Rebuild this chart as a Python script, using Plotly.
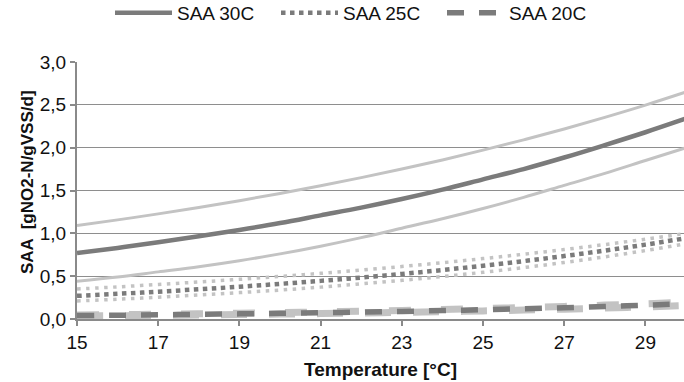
import plotly.graph_objects as go

# Temperature (°C)
temperature = [15, 16, 17, 18, 19, 20, 21, 22, 23, 24, 25, 26, 27, 28, 29, 30]

# SAA at 30C reactor temperature: fit and confidence bounds
saa30 = [0.77, 0.83, 0.895, 0.965, 1.04, 1.12, 1.21, 1.30, 1.40, 1.51, 1.63, 1.75, 1.885, 2.03, 2.18, 2.34]
saa30_hi = [1.09, 1.157, 1.227, 1.302, 1.381, 1.466, 1.555, 1.650, 1.751, 1.857, 1.971, 2.091, 2.218, 2.354, 2.497, 2.65]
saa30_lo = [0.44, 0.49, 0.55, 0.61, 0.68, 0.76, 0.85, 0.95, 1.06, 1.17, 1.29, 1.42, 1.56, 1.70, 1.85, 2.00]

# SAA at 25C
saa25 = [0.270, 0.294, 0.319, 0.347, 0.377, 0.410, 0.445, 0.484, 0.526, 0.572, 0.622, 0.676, 0.735, 0.799, 0.868, 0.944]
saa25_hi = [0.35, 0.375, 0.403, 0.432, 0.463, 0.497, 0.533, 0.571, 0.613, 0.657, 0.705, 0.756, 0.811, 0.869, 0.932, 1.0]
saa25_lo = [0.21, 0.231, 0.254, 0.280, 0.308, 0.338, 0.372, 0.410, 0.451, 0.496, 0.545, 0.600, 0.660, 0.726, 0.799, 0.879]

# SAA at 20C
saa20 = [0.040, 0.044, 0.049, 0.054, 0.060, 0.066, 0.073, 0.080, 0.089, 0.098, 0.108, 0.120, 0.132, 0.146, 0.161, 0.178]
saa20_hi = [0.046, 0.051, 0.056, 0.062, 0.068, 0.075, 0.083, 0.091, 0.100, 0.110, 0.121, 0.134, 0.147, 0.162, 0.178, 0.196]
saa20_lo = [0.035, 0.038, 0.042, 0.047, 0.052, 0.057, 0.063, 0.070, 0.077, 0.085, 0.094, 0.104, 0.115, 0.127, 0.141, 0.157]

x_ticks = [15, 17, 19, 21, 23, 25, 27, 29]

DARK = "#7b7b7b"
LIGHT = "#c3c3c3"
FONT = "Liberation Sans, Arial, sans-serif"
TXT = "#111111"

fig = go.Figure()


def add(y, color, width, dash, name=None, show=False):
    fig.add_trace(go.Scatter(
        x=temperature, y=y, mode="lines", name=name, showlegend=show,
        line=dict(color=color, width=width, dash=dash, shape="spline"),
        hoverinfo="skip"))


add(saa30_hi, LIGHT, 3, "solid")
add(saa30_lo, LIGHT, 3, "solid")
add(saa25_hi, LIGHT, 3.5, "3.5px,5.5px")
add(saa25_lo, LIGHT, 3.5, "3.5px,5.5px")
add(saa20_hi, LIGHT, 7, "22px,30px")
add(saa20_lo, LIGHT, 7, "26px,22px")
add(saa30, DARK, 4.5, "solid", "SAA 30C", True)
add(saa25, DARK, 4.5, "4.5px,4.5px", "SAA 25C", True)
add(saa20, DARK, 5.5, "17px,15px", "SAA 20C", True)

fig.add_annotation(
    text="<b>SAA  [gNO2-N/gVSS/d]</b>", textangle=-90,
    xref="paper", yref="paper", x=(27 - 77) / 607, y=(319 - 182) / 257,
    xanchor="center", yanchor="middle", showarrow=False,
    font=dict(family=FONT, size=17, color=TXT))

fig.update_layout(
    width=684, height=382,
    margin=dict(l=77, r=0, t=62, b=63, autoexpand=False),
    paper_bgcolor="white", plot_bgcolor="white",
    separators=",.",
    font=dict(family=FONT, size=19, color=TXT),
    showlegend=True,
    legend=dict(orientation="h", xref="container", yref="paper",
                x=110 / 684, y=1 + (62 - 13) / 257, xanchor="left", yanchor="middle",
                itemwidth=57, entrywidth=94, entrywidthmode="pixels",
                font=dict(size=19, color=TXT),
                bgcolor="rgba(0,0,0,0)", tracegroupgap=0),
    xaxis=dict(range=[15, 29.95], tickvals=x_ticks, ticks="outside", ticklen=5,
               tickcolor="#8a8a8a", tickwidth=1.5, showline=True, linecolor="#8a8a8a",
               linewidth=2, showgrid=False, zeroline=False, automargin=False,
               tickfont=dict(size=19, color=TXT),
               title=dict(text="<b>Temperature [°C]</b>", font=dict(size=19, color=TXT),
                          standoff=11)),
    yaxis=dict(range=[0, 3], dtick=0.5, tick0=0, tickformat=".1f", ticks="outside",
               ticklen=5, tickcolor="#8a8a8a", tickwidth=1.5, showline=True,
               linecolor="#8a8a8a", linewidth=2, showgrid=True, gridcolor="#8e8e8e",
               gridwidth=1, zeroline=False, automargin=False,
               tickfont=dict(size=19, color=TXT)),
)

fig.write_html("out.html", config={"displayModeBar": False},
               post_script="document.body.style.margin='0';")
